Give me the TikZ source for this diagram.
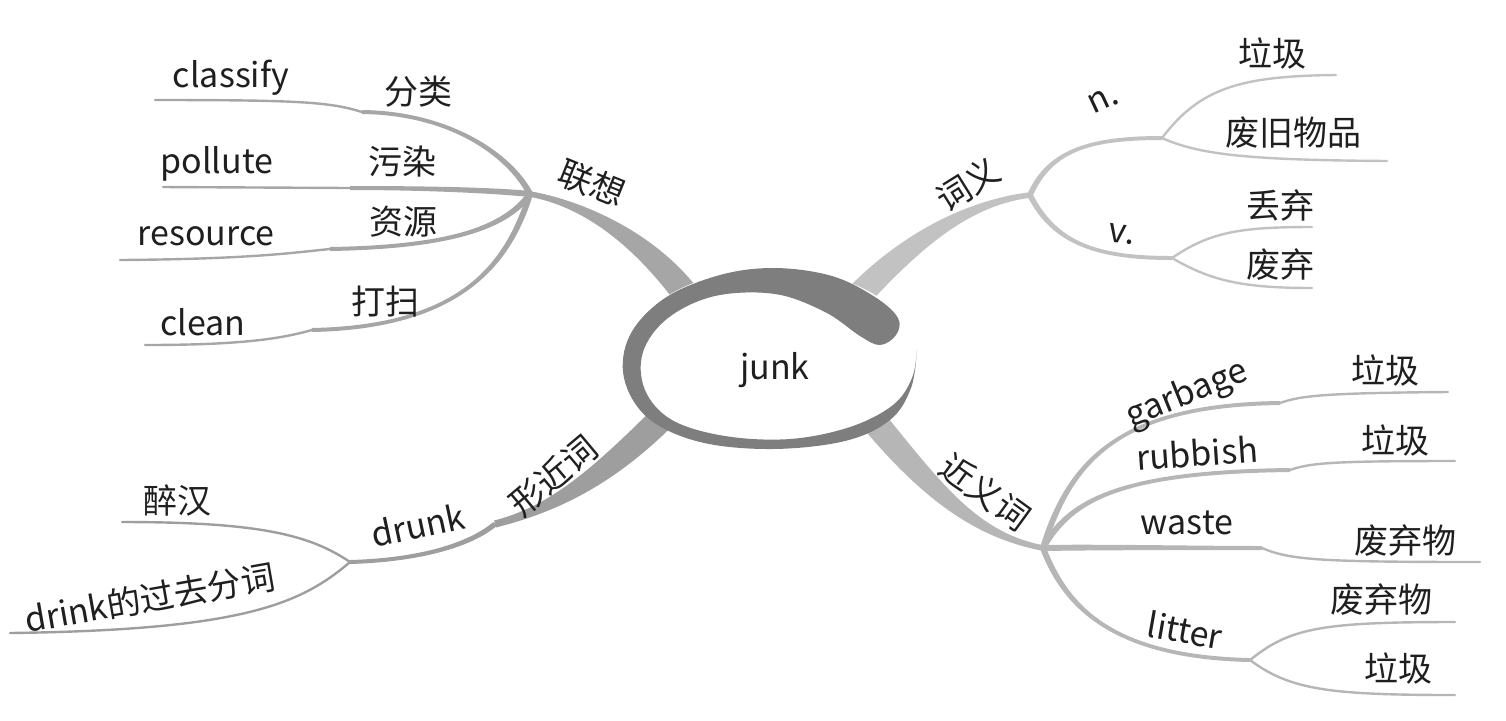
\documentclass[tikz,border=0pt]{standalone}
\usepackage{fontspec}
\setmainfont{Noto Sans CJK SC}
\usetikzlibrary{calc}

\definecolor{ringgray}{HTML}{7E7E7E}
\definecolor{lxgray}{HTML}{A6A6A6}
\definecolor{cygray}{HTML}{C2C2C2}
\definecolor{xjgray}{HTML}{9E9E9E}
\definecolor{jygray}{HTML}{B6B6B6}

% tapered stroke: colour, start, control 1, control 2, end, half width at start, half width at end
\newcommand\brush[7]{%
  \fill[#1] ($(#2)!#6!90:(#3)$) .. controls ($(#3)!#6!-90:(#2)$) and ($(#4)!#7!90:(#5)$) .. ($(#5)!#7!-90:(#4)$)
    -- ($(#5)!#7!90:(#4)$) .. controls ($(#4)!#7!-90:(#5)$) and ($(#3)!#6!90:(#2)$) .. ($(#2)!#6!-90:(#3)$) -- cycle;}

\begin{document}
\begin{tikzpicture}[x=0.5pt, y=-0.5pt,
    word/.style={font=\fontsize{17}{19}\selectfont, text=black!88, inner sep=0pt},
    leaf/.style={line width=1.2pt, line cap=round}
]
\useasboundingbox (0,0) rectangle (1506,720);

% hubs and joints
\coordinate (lx) at (530,194);
\coordinate (cy) at (1030,195);
\coordinate (xj) at (495,524);
\coordinate (jy) at (1043,548);
\coordinate (nh) at (1162,138);
\coordinate (vh) at (1172,258);
\coordinate (dh) at (350,562);
\coordinate (lh) at (1250,660);

% 联想
\brush{lxgray}{690,300}{650,245}{590,205}{lx}{6.5pt}{1.4pt}
\coordinate (cj) at (362,112);
\coordinate (pj) at (350,188);
\coordinate (rj) at (330,249);
\coordinate (kj) at (312,330);
\brush{lxgray}{lx}{510,155}{450,113}{cj}{1.5pt}{1pt}
\brush{lxgray}{lx}{490,190}{420,188}{pj}{1.5pt}{1pt}
\brush{lxgray}{lx}{505,228}{450,247}{rj}{1.5pt}{1pt}
\brush{lxgray}{lx}{508,265}{460,327}{kj}{1.5pt}{1pt}
\coordinate (ce) at (155,100);
\coordinate (pe) at (163,187);
\coordinate (re) at (120,260);
\coordinate (ke) at (145,345);
\draw[leaf, lxgray] (cj) .. controls (330,102) and (300,100) .. (ce);
\draw[leaf, lxgray] (pj) -- (pe);
\draw[leaf, lxgray] (rj) .. controls (290,253) and (250,259) .. (re);
\draw[leaf, lxgray] (kj) .. controls (280,339) and (240,345) .. (ke);

% 词义
\brush{cygray}{850,305}{905,245}{965,203}{cy}{6.5pt}{1.4pt}
\brush{cygray}{cy}{1050,150}{1090,138}{nh}{1.4pt}{1pt}
\brush{cygray}{cy}{1055,245}{1100,258}{vh}{1.4pt}{1pt}
\coordinate (ne1) at (1336,75);
\coordinate (ne2) at (1387,161);
\coordinate (ve1) at (1312,227);
\coordinate (ve2) at (1312,288);
\draw[leaf, cygray] (nh) .. controls (1200,88) and (1240,76) .. (ne1);
\draw[leaf, cygray] (nh) .. controls (1200,155) and (1250,160) .. (ne2);
\draw[leaf, cygray] (vh) .. controls (1210,232) and (1240,227) .. (ve1);
\draw[leaf, cygray] (vh) .. controls (1210,280) and (1240,288) .. (ve2);

% 形近词
\brush{xjgray}{665,415}{600,480}{550,510}{xj}{6.5pt}{1.8pt}
\brush{xjgray}{xj}{470,545}{420,560}{dh}{1.3pt}{1pt}
\coordinate (de1) at (122,522);
\coordinate (de2) at (10,633);
\draw[leaf, xjgray] (dh) .. controls (310,535) and (260,522) .. (de1);
\draw[leaf, xjgray] (dh) .. controls (300,605) and (240,630) .. (de2);

% 近义词
\brush{jygray}{865,410}{930,490}{975,535}{jy}{6.5pt}{1.4pt}
\coordinate (gj) at (1280,403);
\coordinate (bj) at (1290,470);
\coordinate (wj) at (1262,548);
\brush{jygray}{jy}{1070,460}{1120,405}{gj}{1.5pt}{1pt}
\brush{jygray}{jy}{1070,500}{1120,472}{bj}{1.5pt}{1pt}
\brush{jygray}{jy}{1100,547}{1200,548}{wj}{1.5pt}{1pt}
\brush{jygray}{jy}{1065,605}{1110,657}{lh}{1.5pt}{1pt}
\coordinate (ge) at (1448,392);
\coordinate (be) at (1455,461);
\coordinate (we) at (1480,562);
\coordinate (le1) at (1455,622);
\coordinate (le2) at (1455,695);
\draw[leaf, jygray] (gj) .. controls (1300,396) and (1320,393) .. (ge);
\draw[leaf, jygray] (bj) .. controls (1310,463) and (1330,461) .. (be);
\draw[leaf, jygray] (wj) .. controls (1290,560) and (1320,562) .. (we);
\draw[leaf, jygray] (lh) .. controls (1290,628) and (1320,622) .. (le1);
\draw[leaf, jygray] (lh) .. controls (1290,690) and (1330,695) .. (le2);

% centre
\fill[white] (772,358) ellipse [x radius=146, y radius=89];
\fill[ringgray] plot[smooth cycle, tension=0.6] coordinates {
  (917,350) (911,388) (890,420) (845,441) (772,449) (700,442) (648,418)
  (624,378) (630,335) (665,298) (720,275) (775,268) (832,276) (875,297)
  (898,318) (896,335) (880,345) (860,336) (825,312) (775,294) (715,296)
  (668,318) (643,352) (645,390) (672,420) (725,436) (790,439) (850,427)
  (893,405) (912,378)};
\node[word] (junk) at (775,370) {junk};

% labels
\node[word, rotate=-22] (lianxiang) at (592,183) {联想};
\node[word] (classify) at (231,78) {classify};
\node[word] (fenlei) at (418,92) {分类};
\node[word] (pollute) at (217,164) {pollute};
\node[word] (wuran) at (402,162) {污染};
\node[word] (resource) at (206,236) {resource};
\node[word] (ziyuan) at (403,222) {资源};
\node[word] (clean) at (203,322) {clean};
\node[word] (dasao) at (385,302) {打扫};

\node[word, rotate=32] (ciyi) at (968,184) {词义};
\node[word, rotate=25] (noun) at (1103,100) {n.};
\node[word] (laji1) at (1272,53) {垃圾};
\node[word] (feijiu) at (1293,133) {废旧物品};
\node[word, rotate=-8] (verb) at (1122,234) {v.};
\node[word] (diuqi) at (1280,205) {丢弃};
\node[word] (feiqi) at (1280,265) {废弃};

\node[word, rotate=40] (xingjin) at (553,476) {形近词};
\node[word, rotate=12] (drunk) at (418,525) {drunk};
\node[word] (zuihan) at (177,500) {醉汉};
\node[word, rotate=10] (drink) at (150,598) {drink的过去分词};

\node[word, rotate=-36] (jinyi) at (985,492) {近义词};
\node[word, rotate=22] (garbage) at (1187,395) {garbage};
\node[word] (laji2) at (1385,370) {垃圾};
\node[word, rotate=4] (rubbish) at (1197,453) {rubbish};
\node[word] (laji3) at (1395,440) {垃圾};
\node[word] (waste) at (1187,523) {waste};
\node[word] (feiqiwu1) at (1405,541) {废弃物};
\node[word, rotate=-10] (litter) at (1185,630) {litter};
\node[word] (feiqiwu2) at (1381,600) {废弃物};
\node[word] (laji4) at (1398,668) {垃圾};

\end{tikzpicture}
\end{document}
